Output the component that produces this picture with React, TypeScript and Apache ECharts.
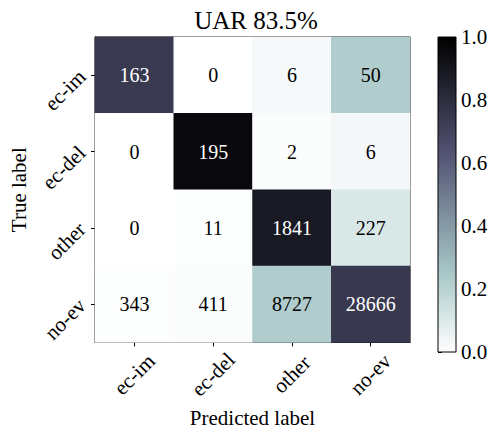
import React, { useEffect, useRef } from "react";
import * as echarts from "echarts";

const title = "UAR 83.5%";
const predictedLabels = ["ec-im", "ec-del", "other", "no-ev"];
const trueLabels = ["ec-im", "ec-del", "other", "no-ev"];
const rowEcIm = [163, 0, 6, 50];
const rowEcDel = [0, 195, 2, 6];
const rowOther = [0, 11, 1841, 227];
const rowNoEv = [343, 411, 8727, 28666];
const counts = [rowEcIm, rowEcDel, rowOther, rowNoEv];
const colorbarTicks = [0, 0.2, 0.4, 0.6, 0.8, 1.0];

// matplotlib "bone_r" colormap
function boneR(v: number): string {
  const x = 1 - v;
  const seg = (pts: number[][]) => {
    for (let i = 0; i < pts.length - 1; i++) {
      const [x0, y0] = pts[i];
      const [x1, y1] = pts[i + 1];
      if (x >= x0 && x <= x1) return y0 + ((y1 - y0) * (x - x0)) / (x1 - x0);
    }
    return pts[pts.length - 1][1];
  };
  const r = seg([[0, 0], [0.746032, 0.652778], [1, 1]]);
  const g = seg([[0, 0], [0.365079, 0.319444], [0.746032, 0.777778], [1, 1]]);
  const b = seg([[0, 0], [0.365079, 0.444444], [1, 1]]);
  const h = (c: number) => Math.round(c * 255).toString(16).padStart(2, "0");
  return "#" + h(r) + h(g) + h(b);
}

const N = 40;
const rampColors: string[] = [];
for (let i = 0; i <= N; i++) rampColors.push(boneR(i / N));

const FONT = "Liberation Serif";

export default function App() {
  const ref = useRef<HTMLDivElement>(null);
  useEffect(() => {
    if (!ref.current) return;
    const chart = echarts.init(ref.current, undefined, { renderer: "svg" });

    const data: any[] = [];
    counts.forEach((row, yi) => {
      const total = row.reduce((a, b) => a + b, 0);
      row.forEach((c, xi) => {
        const v = c / total;
        data.push({
          value: [xi, yi, v, c],
          label: { color: v > 0.5 ? "#ffffff" : "#000000" },
        });
      });
    });

    const gradStops = rampColors.map((c, i) => ({ offset: i / N, color: c }));

    chart.setOption({
      animation: false,
      backgroundColor: "#ffffff",
      textStyle: { fontFamily: FONT },
      title: {
        text: title,
        left: 251,
        textAlign: "center",
        top: 3,
        textStyle: { fontFamily: FONT, fontSize: 25, fontWeight: "normal", color: "#000" },
      },
      grid: [
        { left: 95, top: 37, width: 315, height: 315, show: true, borderColor: "#000", borderWidth: 1, backgroundColor: "transparent" },
        { left: 438, top: 37, width: 18, height: 315 },
      ],
      xAxis: [
        {
          type: "category",
          gridIndex: 0,
          data: predictedLabels,
          position: "bottom",
          name: "Predicted label",
          nameLocation: "middle",
          nameGap: 58,
          nameTextStyle: { fontFamily: FONT, fontSize: 21, color: "#000" },
          axisLine: { show: true, lineStyle: { color: "#000", width: 1 } },
          axisTick: { show: true, alignWithLabel: true, length: 4, lineStyle: { color: "#000" } },
          axisLabel: {
            rotate: 45,
            align: "center",
            verticalAlign: "middle",
            fontFamily: FONT,
            fontSize: 21,
            color: "#000",
            margin: 32,
          },
          splitLine: { show: false },
        },
        { type: "value", gridIndex: 1, min: 0, max: 1, show: false },
      ],
      yAxis: [
        {
          type: "category",
          gridIndex: 0,
          data: trueLabels,
          inverse: true,
          name: "True label",
          nameLocation: "middle",
          nameRotate: 90,
          nameGap: 66,
          nameTextStyle: { fontFamily: FONT, fontSize: 21, color: "#000" },
          axisLine: { show: true, lineStyle: { color: "#000", width: 1 } },
          axisTick: { show: true, alignWithLabel: true, length: 4, lineStyle: { color: "#000" } },
          axisLabel: { show: false },
          splitLine: { show: false },
        },
        {
          type: "value",
          gridIndex: 1,
          min: 0,
          max: 1,
          interval: 0.2,
          position: "right",
          axisLine: { show: false },
          axisTick: { show: true, length: 4, lineStyle: { color: "#000" } },
          axisLabel: {
            fontFamily: FONT,
            fontSize: 21,
            color: "#000",
            margin: 5,
            formatter: (v: number) => (colorbarTicks.some((t) => Math.abs(t - v) < 1e-9) ? v.toFixed(1) : ""),
          },
          splitLine: { show: false },
        },
      ],
      visualMap: {
        show: false,
        min: 0,
        max: 1,
        dimension: 2,
        seriesIndex: 0,
        inRange: { color: rampColors },
      },
      series: [
        {
          type: "heatmap",
          xAxisIndex: 0,
          yAxisIndex: 0,
          data,
          label: {
            show: true,
            fontFamily: FONT,
            fontSize: 20,
            formatter: (p: any) => String(p.value[3]),
          },
          itemStyle: { borderWidth: 0 },
          emphasis: { disabled: true },
        },
        {
          type: "custom",
          xAxisIndex: 1,
          yAxisIndex: 1,
          data: [[0, 0]],
          silent: true,
          renderItem: (params: any) => {
            const cs = params.coordSys;
            return {
              type: "rect",
              shape: { x: cs.x, y: cs.y, width: cs.width, height: cs.height },
              style: {
                fill: new echarts.graphic.LinearGradient(0, 1, 0, 0, gradStops),
                stroke: "#000",
                lineWidth: 1,
              },
            };
          },
        },
        {
          // rotated y tick labels, anchored near their upper-right end like matplotlib
          type: "custom",
          xAxisIndex: 0,
          yAxisIndex: 0,
          clip: false,
          silent: true,
          data: trueLabels.map((_, i) => [0, i]),
          renderItem: (params: any, api: any) => {
            const cs = params.coordSys;
            const p = api.coord([0, api.value(1)]);
            return {
              type: "text",
              x: cs.x - 13,
              y: p[1] - 2,
              rotation: Math.PI / 4,
              style: {
                text: trueLabels[params.dataIndex],
                font: `21px "${FONT}"`,
                fill: "#000",
                align: "right",
                verticalAlign: "middle",
              },
            };
          },
        },
      ],
    });
    return () => chart.dispose();
  }, []);
  return (
    <div
      ref={ref}
      style={{ position: "fixed", left: 0, top: 0, width: 494, height: 433 }}
    />
  );
}
